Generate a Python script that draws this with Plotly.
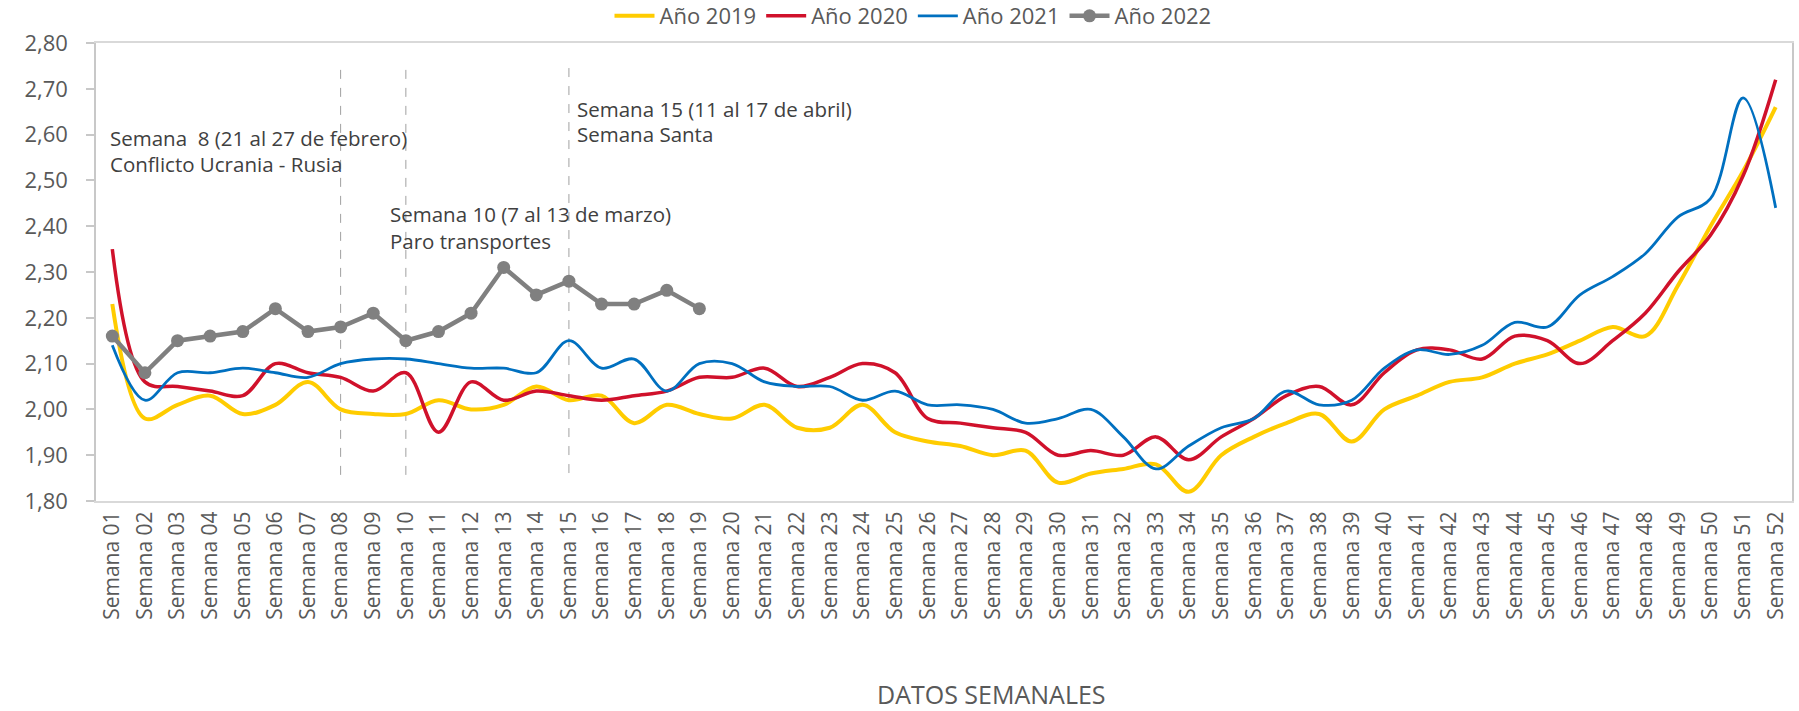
import plotly.graph_objects as go

semanas = [
    "Semana 01", "Semana 02", "Semana 03", "Semana 04", "Semana 05", "Semana 06",
    "Semana 07", "Semana 08", "Semana 09", "Semana 10", "Semana 11", "Semana 12",
    "Semana 13", "Semana 14", "Semana 15", "Semana 16", "Semana 17", "Semana 18",
    "Semana 19", "Semana 20", "Semana 21", "Semana 22", "Semana 23", "Semana 24",
    "Semana 25", "Semana 26", "Semana 27", "Semana 28", "Semana 29", "Semana 30",
    "Semana 31", "Semana 32", "Semana 33", "Semana 34", "Semana 35", "Semana 36",
    "Semana 37", "Semana 38", "Semana 39", "Semana 40", "Semana 41", "Semana 42",
    "Semana 43", "Semana 44", "Semana 45", "Semana 46", "Semana 47", "Semana 48",
    "Semana 49", "Semana 50", "Semana 51", "Semana 52",
]

anio_2019 = [
    2.23, 1.98, 2.01, 2.03, 1.99, 2.01, 2.06, 2.00, 1.99, 1.99,
    2.02, 2.00, 2.01, 2.05, 2.02, 2.03, 1.97, 2.01, 1.99, 1.98,
    2.01, 1.96, 1.96, 2.01, 1.95, 1.93, 1.92, 1.90, 1.91, 1.84,
    1.86, 1.87, 1.88, 1.82, 1.90, 1.94, 1.97, 1.99, 1.93, 2.00,
    2.03, 2.06, 2.07, 2.10, 2.12, 2.15, 2.18, 2.16, 2.27, 2.40,
    2.52, 2.66,
]

anio_2020 = [
    2.35, 2.06, 2.05, 2.04, 2.03, 2.10, 2.08, 2.07, 2.04, 2.08,
    1.95, 2.06, 2.02, 2.04, 2.03, 2.02, 2.03, 2.04, 2.07, 2.07,
    2.09, 2.05, 2.07, 2.10, 2.08, 1.98, 1.97, 1.96, 1.95, 1.90,
    1.91, 1.90, 1.94, 1.89, 1.94, 1.98, 2.03, 2.05, 2.01, 2.08,
    2.13, 2.13, 2.11, 2.16, 2.15, 2.10, 2.15, 2.21, 2.30, 2.38,
    2.51, 2.72,
]

anio_2021 = [
    2.14, 2.02, 2.08, 2.08, 2.09, 2.08, 2.07, 2.10, 2.11, 2.11,
    2.10, 2.09, 2.09, 2.08, 2.15, 2.09, 2.11, 2.04, 2.10, 2.10,
    2.06, 2.05, 2.05, 2.02, 2.04, 2.01, 2.01, 2.00, 1.97, 1.98,
    2.00, 1.94, 1.87, 1.92, 1.96, 1.98, 2.04, 2.01, 2.02, 2.09,
    2.13, 2.12, 2.14, 2.19, 2.18, 2.25, 2.29, 2.34, 2.42, 2.46,
    2.68, 2.44,
]

anio_2022 = [
    2.16, 2.08, 2.15, 2.16, 2.17, 2.22, 2.17, 2.18, 2.21, 2.15,
    2.17, 2.21, 2.31, 2.25, 2.28, 2.23, 2.23, 2.26, 2.22,
]

y_ticks = [1.80, 1.90, 2.00, 2.10, 2.20, 2.30, 2.40, 2.50, 2.60, 2.70, 2.80]

event_weeks = ["Semana 08", "Semana 10", "Semana 15"]
event_line_top = [2.754, 2.754, 2.763]
event_line_bottom = [1.857, 1.857, 1.861]

notes = [
    ("Semana \u00a08 (21 al 27 de febrero)", 108, 138),
    ("Conflicto Ucrania - Rusia", 108, 164),
    ("Semana 10 (7 al 13 de marzo)", 388, 214),
    ("Paro transportes", 388, 241),
    ("Semana 15 (11 al 17 de abril)", 575, 109),
    ("Semana Santa", 575, 134),
]

W, H = 1799, 711
ML, MR, MT, MB = 96, 7, 43, 210
PW = W - ML - MR
PH = H - MT - MB


def px_to_paper(x, y):
    return (x - ML) / PW, (H - MB - y) / PH


FONT = "Open Sans"
GREY_TXT = "#595959"

fig = go.Figure()

fig.add_trace(go.Scatter(
    x=semanas, y=anio_2019, name="Año 2019", mode="lines",
    line=dict(color="#FFCC00", width=4, shape="spline", smoothing=1.0),
))
fig.add_trace(go.Scatter(
    x=semanas, y=anio_2020, name="Año 2020", mode="lines",
    line=dict(color="#D0112B", width=3.5, shape="spline", smoothing=1.0),
))
fig.add_trace(go.Scatter(
    x=semanas, y=anio_2021, name="Año 2021", mode="lines",
    line=dict(color="#0070C0", width=2.8, shape="spline", smoothing=1.0),
))
fig.add_trace(go.Scatter(
    x=semanas[:len(anio_2022)], y=anio_2022, name="Año 2022", mode="lines+markers",
    line=dict(color="#808080", width=4.5),
    marker=dict(color="#808080", size=13),
))

for wk, y0, y1 in zip(event_weeks, event_line_bottom, event_line_top):
    fig.add_shape(type="line", xref="x", yref="y", x0=wk, x1=wk, y0=y0, y1=y1,
                  line=dict(color="#A0A0A0", width=1, dash="dash"), layer="below")

for txt, x, y in notes:
    px, py = px_to_paper(x, y)
    fig.add_annotation(text=txt, xref="paper", yref="paper", x=px, y=py,
                       xanchor="left", yanchor="middle", showarrow=False,
                       font=dict(family=FONT, size=20.5, color="#404040"))

tx, ty = px_to_paper(991, 694)
fig.add_annotation(text="DATOS SEMANALES", xref="paper", yref="paper", x=tx, y=ty,
                   xanchor="center", yanchor="middle", showarrow=False,
                   font=dict(family=FONT, size=25, color=GREY_TXT))

lx, ly = px_to_paper(913, 16)
fig.update_layout(
    width=W, height=H,
    margin=dict(l=ML, r=MR, t=MT, b=MB, pad=0, autoexpand=False),
    paper_bgcolor="white", plot_bgcolor="white",
    separators=",.",
    font=dict(family=FONT, color=GREY_TXT, size=18),
    legend=dict(orientation="h", x=lx, y=ly, xanchor="center", yanchor="middle",
                font=dict(family=FONT, size=22, color=GREY_TXT),
                itemwidth=40, bgcolor="rgba(0,0,0,0)", traceorder="normal"),
    showlegend=True,
)

fig.update_xaxes(
    type="category", categoryorder="array", categoryarray=semanas,
    range=[-0.5, len(semanas) - 0.5], automargin=False,
    tickangle=-90, showgrid=False, zeroline=False,
    showline=True, linecolor="#D9D9D9", linewidth=2, mirror=True,
    ticks="", tickfont=dict(family=FONT, size=21, color=GREY_TXT),
)
fig.update_yaxes(
    range=[1.80, 2.80], tickvals=y_ticks, tickformat=".2f", automargin=False,
    showgrid=False, zeroline=False,
    showline=True, linecolor="#C8C8C8", linewidth=1.5, mirror=True,
    ticks="outside", ticklen=8, tickcolor="#C8C8C8", tickwidth=1.5,
    ticklabelstandoff=14,
    tickfont=dict(family=FONT, size=22, color=GREY_TXT),
)

fig.write_html(
    "out.html",
    config={"displayModeBar": False},
    post_script="document.body.style.margin='0';document.body.style.overflow='hidden';",
)
